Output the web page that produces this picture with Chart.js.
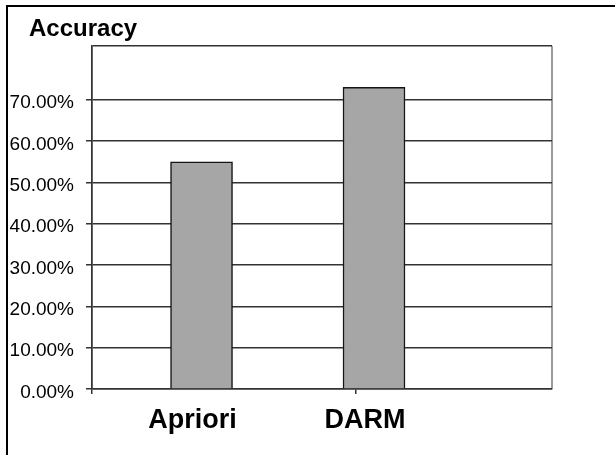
<!DOCTYPE html>
<html>
<head>
<meta charset="utf-8">
<script src="https://cdn.jsdelivr.net/npm/chart.js@4/dist/chart.umd.min.js"></script>
<style>
  html, body { margin: 0; padding: 0; background: #fff; }
  #wrap { position: relative; width: 615px; height: 455px; overflow: hidden; }
  #frame { position: absolute; left: 6px; top: 5px; right: -10px; bottom: -10px;
           border-top: 2px solid #000; border-left: 2px solid #000; pointer-events: none; }
  #title { position: absolute; left: 29px; top: 16px; margin: 0;
           font: bold 24px/24px "Liberation Sans", Arial, sans-serif; color: #000; white-space: nowrap; }
  canvas { position: absolute; left: 0; top: 0; }
</style>
</head>
<body>
<div id="wrap">
  <canvas id="chart" width="615" height="455"></canvas>
  <div id="frame"></div>
  <div id="title">Accuracy</div>
</div>
<script>
// Algorithms compared and their accuracy
const categories = ['Apriori', 'DARM'];
const accuracy = [0.55, 0.73];

// Value axis: labelled ticks and the top of the plot
const yTicks = [0, 0.1, 0.2, 0.3, 0.4, 0.5, 0.6, 0.7];
const yMax = 0.83;

// Category axis extent and the separator tick between categories
const xMin = -0.635;
const xMax = 2.032;
const xSeparators = [0.896];

const FONT = '"Liberation Sans", Arial, sans-serif';
const LINE = '#333333';
const NONE = 'rgba(0,0,0,0)';

new Chart(document.getElementById('chart'), {
  type: 'bar',
  data: {
    datasets: [{
      data: categories.map((c, i) => ({ x: i, y: accuracy[i] })),
      backgroundColor: '#A6A6A6',
      borderColor: '#151515',
      borderWidth: 1.5,
      barThickness: 62
    }]
  },
  options: {
    responsive: false,
    devicePixelRatio: 1,
    animation: false,
    layout: { padding: { left: 8, right: 63, top: 46, bottom: 18 } },
    plugins: {
      legend: { display: false },
      tooltip: { enabled: false },
      title: { display: false }
    },
    scales: {
      x: {
        type: 'linear',
        min: xMin,
        max: xMax,
        offset: false,
        afterBuildTicks: s => {
          const vals = [xMin, 0, ...xSeparators, 1, xMax];
          s.ticks = vals.map(v => ({ value: v }));
        },
        afterFit: s => { s.height = 48; },
        ticks: {
          autoSkip: false,
          maxRotation: 0,
          padding: 10,
          labelOffset: -9,
          color: '#000',
          font: { family: FONT, size: 27, weight: 'bold' },
          callback: v => (Number.isInteger(v) && categories[v] !== undefined) ? categories[v] : ''
        },
        grid: {
          offset: false,
          drawOnChartArea: true,
          tickLength: 5,
          color: ctx => {
            const v = ctx.tick && ctx.tick.value;
            if (v === xMax) return '#9a9a9a';
            if (v === xMin) return LINE;
            return NONE;
          },
          lineWidth: ctx => (ctx.tick && ctx.tick.value === xMax) ? 2 : 1.5,
          tickColor: ctx => {
            const v = ctx.tick && ctx.tick.value;
            return (v === xMin || xSeparators.includes(v)) ? LINE : NONE;
          },
          tickWidth: 1.5
        },
        border: { display: true, color: LINE, width: 1.5 }
      },
      y: {
        min: 0,
        max: yMax,
        afterBuildTicks: s => {
          s.ticks = [...yTicks, yMax].map(v => ({ value: v }));
        },
        afterFit: s => { s.width = 84; },
        ticks: {
          autoSkip: false,
          padding: 12,
          labelOffset: 3.5,
          color: '#000',
          font: { family: FONT, size: 19 },
          callback: v => yTicks.includes(v) ? (v * 100).toFixed(2) + '%' : ''
        },
        grid: {
          color: LINE,
          lineWidth: 1.5,
          tickLength: 6,
          tickColor: ctx => (ctx.tick && ctx.tick.value === yMax) ? NONE : LINE,
          tickWidth: 1.5
        },
        border: { display: true, color: LINE, width: 1.5 }
      }
    }
  }
});
</script>
</body>
</html>
